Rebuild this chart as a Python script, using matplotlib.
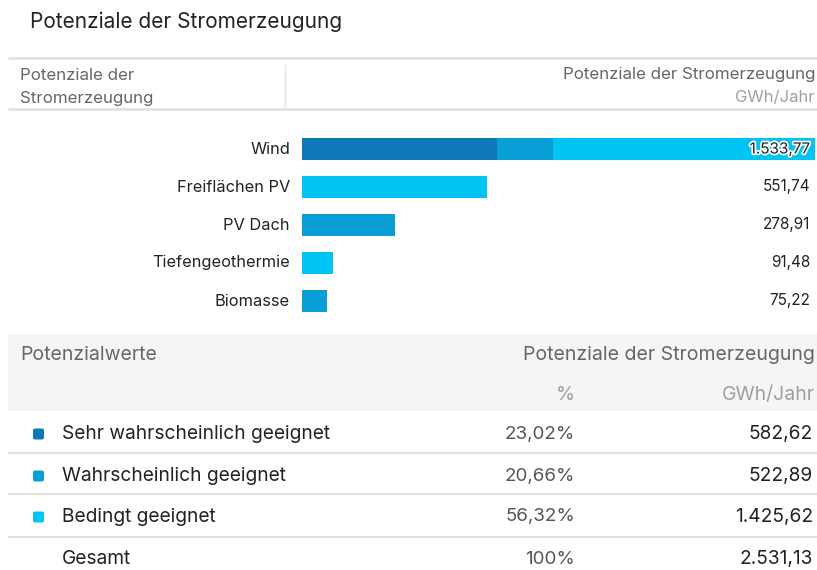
import matplotlib
matplotlib.use("Agg")
import matplotlib.pyplot as plt
from matplotlib.patches import Rectangle, FancyBboxPatch
import matplotlib.patheffects as pe

# ---------------- data ----------------
categories = ["Wind", "Freiflächen PV", "PV Dach", "Tiefengeothermie", "Biomasse"]
sehr_wahrscheinlich = [582.62, 0.0, 0.0, 0.0, 0.0]
wahrscheinlich = [168.76, 0.0, 278.91, 0.0, 75.22]
bedingt = [782.39, 551.74, 0.0, 91.48, 0.0]
totals = [1533.77, 551.74, 278.91, 91.48, 75.22]

levels = ["Sehr wahrscheinlich geeignet", "Wahrscheinlich geeignet", "Bedingt geeignet"]
level_pct = ["23,02%", "20,66%", "56,32%"]
level_gwh = [582.62, 522.89, 1425.62]
total_label = "Gesamt"
total_pct = "100%"
total_gwh = 2531.13

title = "Potenziale der Stromerzeugung"
unit = "GWh/Jahr"

colors = ["#0f78b8", "#0a9ed6", "#00c4f4"]

FONT = ["Inter", "DejaVu Sans"]
plt.rcParams["font.family"] = FONT


def de(v):
    s = f"{v:,.2f}"
    return s.replace(",", "X").replace(".", ",").replace("X", ".")


W, H = 817, 570
fig = plt.figure(figsize=(W / 100, H / 100), dpi=100)

# bars axes (drawn below the overlay axes)
x0, x1 = 302, 815
ytop, ybot = 130, 320
axb = fig.add_axes([x0 / W, 1 - ybot / H, (x1 - x0) / W, (ybot - ytop) / H])
axb.set_zorder(1)
axb.set_xlim(0, max(totals))
axb.set_ylim(len(categories) - 0.5, -0.5)
axb.axis("off")
ypos = list(range(len(categories)))
h = 22 / 38
left = [0.0] * len(categories)
for series, col in zip([sehr_wahrscheinlich, wahrscheinlich, bedingt], colors):
    axb.barh(ypos, series, left=left, height=h, color=col, edgecolor="none")
    left = [a + b for a, b in zip(left, series)]

# overlay axes in pixel coordinates
ax = fig.add_axes([0, 0, 1, 1])
ax.set_zorder(2)
ax.patch.set_visible(False)
ax.set_xlim(0, W)
ax.set_ylim(H, 0)
ax.axis("off")

DARK = "#222222"
GRAY = "#666666"
LIGHT = "#a0a0a0"
LINE = "#e2e2e2"

# title
ax.text(30, 22, title, fontsize=15, color=DARK, va="center", ha="left")

# upper header
ax.plot([8, W], [58, 58], color=LINE, lw=2, solid_capstyle="butt")
ax.plot([8, W], [109, 109], color=LINE, lw=2, solid_capstyle="butt")
ax.plot([285, 285], [65, 106], color=LINE, lw=1)
ax.text(20, 75, "Potenziale der", fontsize=12.2, color=GRAY, va="center")
ax.text(20, 98, "Stromerzeugung", fontsize=12.2, color=GRAY, va="center")
ax.text(815, 75, title, fontsize=12.2, color=GRAY, va="center", ha="right")
ax.text(815, 97, unit, fontsize=12, color=LIGHT, va="center", ha="right")

row_y = [149 + 38 * i for i in ypos]
for i, (cat, tot) in enumerate(zip(categories, totals)):
    ax.text(290, row_y[i], cat, fontsize=11.8, color=DARK, va="center", ha="right")
    t = ax.text(810, row_y[i], de(tot), fontsize=11, color=DARK, va="center", ha="right")
    if i == 0:
        t.set_path_effects([pe.withStroke(linewidth=2.5, foreground="white")])

# lower table header
ax.add_patch(Rectangle((8, 334), W - 8, 77, facecolor="#f5f5f5", edgecolor="none"))
ax.text(20, 355, "Potenzialwerte", fontsize=14, color=GRAY, va="center")
ax.text(815, 355, title, fontsize=14, color=GRAY, va="center", ha="right")
ax.text(575, 395, "%", fontsize=14, color=LIGHT, va="center", ha="right")
ax.text(815, 395, unit, fontsize=14, color=LIGHT, va="center", ha="right")

rows_y = [434, 476, 517, 559]
seps = [453, 494, 537]
for s in seps:
    ax.plot([8, W], [s, s], color=LINE, lw=1.5, solid_capstyle="butt")

for i, (lab, pct, g) in enumerate(zip(levels, level_pct, level_gwh)):
    y = rows_y[i]
    ax.add_patch(FancyBboxPatch((33, y - 5.5), 11, 11, boxstyle="round,pad=0,rounding_size=2",
                                facecolor=colors[i], edgecolor="none"))
    ax.text(62, y, lab, fontsize=13.8, color=DARK, va="center")
    ax.text(575, y, pct, fontsize=13.5, color="#555555", va="center", ha="right")
    ax.text(813, y, de(g), fontsize=13.8, color=DARK, va="center", ha="right")

y = rows_y[3]
ax.text(62, y, total_label, fontsize=13.8, color=DARK, va="center")
ax.text(575, y, total_pct, fontsize=13.5, color="#555555", va="center", ha="right")
ax.text(813, y, de(total_gwh), fontsize=13.8, color=DARK, va="center", ha="right")

fig.savefig("out.png", dpi=100)
